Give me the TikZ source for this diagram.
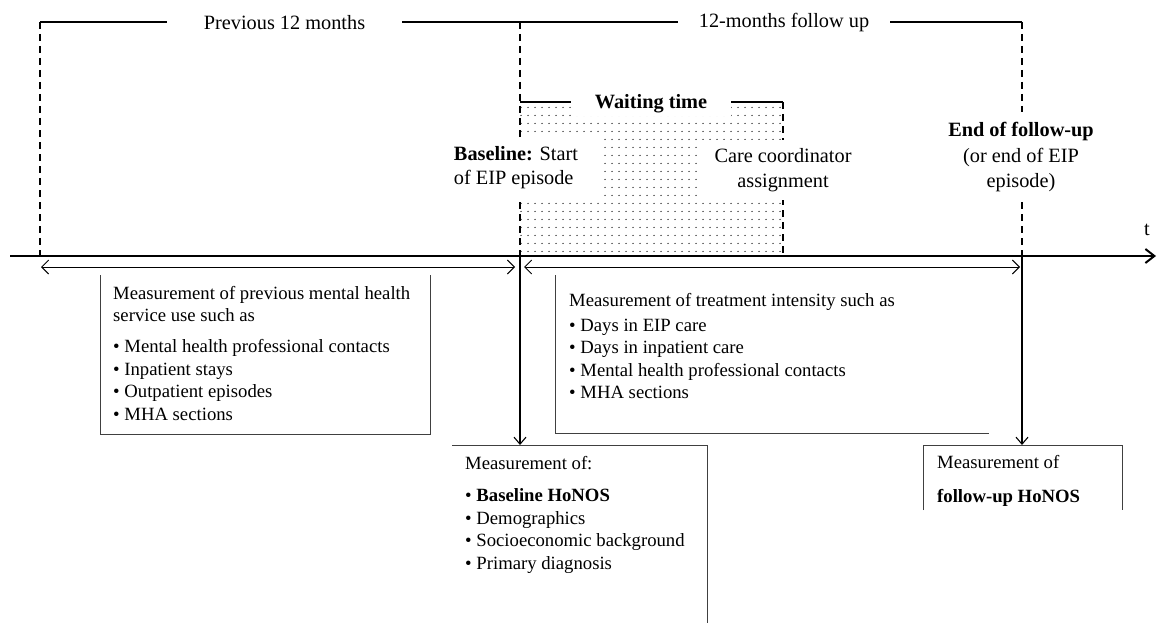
\documentclass[tikz,border=0pt]{standalone}
\usepackage{fontspec}
\setmainfont{Liberation Serif}
\usetikzlibrary{arrows.meta,patterns.meta}

\tikzdeclarepattern{
  name=sparsedots,
  type=uncolored,
  bounding box={(0pt,0pt) and (7pt,7.5pt)},
  tile size={(7pt,7.5pt)},
  code={\pgfpathcircle{\pgfpoint{3.5pt}{3.75pt}}{0.75pt}\pgfusepath{fill}}
}

\begin{document}
\begin{tikzpicture}[x=1pt,y=-1pt,
  lbl/.style={font=\fontsize{20.3}{24.5}\selectfont, align=center, inner sep=2pt},
  boxtxt/.style={font=\fontsize{18.7}{22.5}\selectfont, align=left, anchor=base west, inner sep=0pt},
  guide/.style={line width=1.4pt, dash pattern=on 7pt off 5pt},
  solidline/.style={line width=1.4pt},
  frame/.style={line width=1pt, draw=black!75},
  dbl/.style={line width=0.9pt, {Straight Barb[length=7pt,width=14pt]}-{Straight Barb[length=7pt,width=14pt]}},
  downarrow/.style={line width=1.1pt, -{Straight Barb[length=7pt,width=12pt]}}
]
\useasboundingbox (0,0) rectangle (1158,623);

% coordinates
\coordinate (pL) at (40,22);
\coordinate (pM) at (520,22);
\coordinate (pR) at (1022,22);
\coordinate (tL) at (40,256);
\coordinate (tM) at (520,256);
\coordinate (tR) at (1022,256);
\coordinate (axisS) at (10,256);
\coordinate (axisE) at (1156,256);

% waiting time dotted area
\fill[pattern=sparsedots, pattern color=black] (520,102) rectangle (783,256);
\draw[guide] (783,102) -- (783,256);
\draw[solidline] (520,102) -- (571,102);
\draw[solidline] (731,102) -- (783,102);

% top bracket
\draw[solidline] (pL) -- (pR);
\draw[guide] (pL) -- (tL);
\draw[guide] (pM) -- (tM);
\draw[guide] (pR) -- (tR);

\node[lbl, fill=white, minimum width=235] (prev) at (284.5,23) {Previous 12 months};
\node[lbl, fill=white, minimum width=212] (foll) at (784,23) {12-months follow up};

% labels in waiting region
\node[lbl, fill=white, minimum width=160, inner ysep=3pt] (wait) at (651,104) {\textbf{Waiting time}};
\node[lbl, fill=white, minimum width=172, minimum height=61, align=left] (base) at (516,167.5) {\textbf{Baseline:} Start\\of EIP episode};
\node[lbl, fill=white, minimum width=172, minimum height=60] (care) at (783,170) {Care coordinator\\assignment};
\node[lbl, fill=white, minimum height=90] (endf) at (1021,157) {\textbf{End of follow-up}\\[2pt](or end of EIP\\episode)};

% time axis
\draw[line width=2pt, -{Straight Barb[length=9pt,width=14pt]}] (axisS) -- (axisE);
\node[lbl] (tlab) at (1147,230) {t};

% double arrows
\coordinate (d1a) at (41,267);
\coordinate (d1b) at (515,267);
\coordinate (d2a) at (524,267);
\coordinate (d2b) at (1020,267);
\draw[dbl] (d1a) -- (d1b);
\draw[dbl] (d2a) -- (d2b);

% boxes
\draw[frame] (100,275) -- (100,434) -- (430,434) -- (430,275);
\draw[frame] (555,275) -- (555,433) -- (989,433);
\draw[frame] (452,445) -- (707,445) -- (707,623);
\draw[frame] (923,510) -- (923,445) -- (1122,445) -- (1122,510);

\coordinate (b3top) at (520,445);
\coordinate (b4top) at (1022,445);
\draw[downarrow] (tM) -- (b3top);
\draw[downarrow] (tR) -- (b4top);

% box texts (base anchor = baseline of the last line)
\node[boxtxt] (t1) at (113,420) {Measurement of previous mental health\\service use such as\\[8.5pt]• Mental health professional contacts\\• Inpatient stays\\• Outpatient episodes\\• MHA sections};
\node[boxtxt] (t2) at (569,398.5) {Measurement of treatment intensity such as\\[2.5pt]• Days in EIP care\\• Days in inpatient care\\• Mental health professional contacts\\• MHA sections};
\node[boxtxt] (t3) at (465,569) {Measurement of:\\[9.5pt]• \textbf{Baseline HoNOS}\\• Demographics\\• Socioeconomic background\\• Primary diagnosis};
\node[boxtxt] (t4) at (937,502) {Measurement of\\[11.5pt]\textbf{follow-up HoNOS}};
\end{tikzpicture}
\end{document}
